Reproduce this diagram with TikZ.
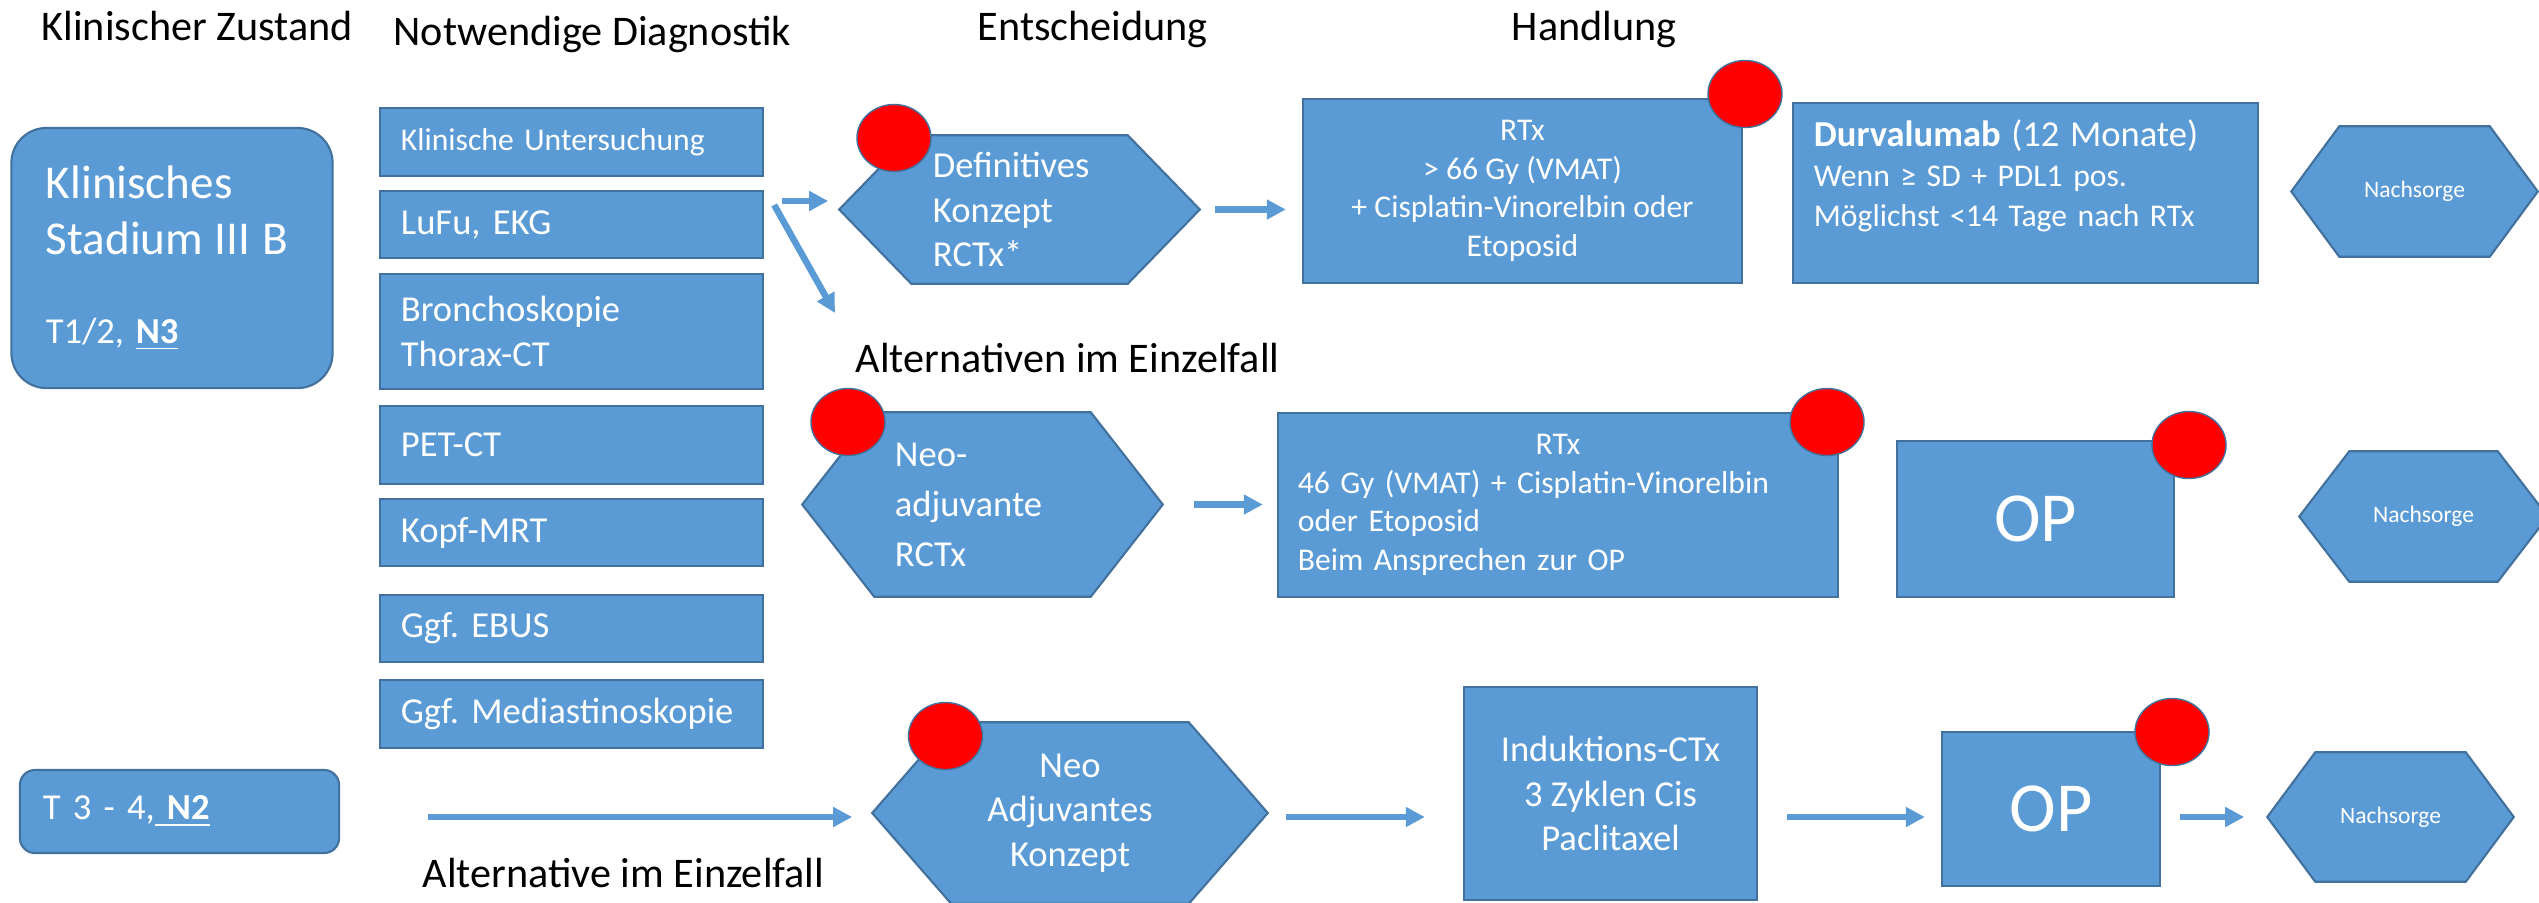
\documentclass[tikz,border=0pt]{standalone}
\usepackage{fontspec}
\setmainfont{Carlito}
\frenchspacing
\usetikzlibrary{arrows.meta, shapes.geometric, backgrounds}

\definecolor{boxblue}{HTML}{5B9BD5}
\definecolor{boxedge}{HTML}{41719C}

\newcommand{\fshead}{\fontsize{12}{14.4}\selectfont}
\newcommand{\fsmid}{\fontsize{10.4}{12.6}\selectfont}
\newcommand{\fssmall}{\fontsize{9}{10.95}\selectfont}
\newcommand{\fsnach}{\fontsize{6.7}{8}\selectfont}
\newcommand{\fsop}{\fontsize{20}{24}\selectfont}

\tikzset{
  box/.style={draw=boxedge, fill=boxblue, line width=0.6pt, text=white, inner sep=0pt},
  diag/.style={box, minimum width=3.83cm, text width=3.41cm, align=left, font=\fsmid},
  hexa/.style={text=white, inner sep=0pt},
  nach/.style={hexa, minimum width=2.45cm, minimum height=1.29cm, font=\fsnach},
  dot/.style={ellipse, draw=boxedge, fill=red, line width=0.4pt, inner sep=0pt, minimum width=0.74cm, minimum height=0.67cm},
  flow/.style={draw=boxblue, line width=0.065cm, -{Triangle[length=0.19cm, width=0.19cm]}},
  coltitle/.style={anchor=base west, inner sep=0pt, font=\fshead}
}

\begin{document}
\begin{tikzpicture}[x=0.01cm, y=-0.01cm]

\useasboundingbox (0,0) rectangle (2539,902);

% column titles
\node[coltitle] (hzust) at (41,40) {Klinischer Zustand};
\node[coltitle] (hdiag) at (393,45) {Notwendige Diagnostik};
\node[coltitle] (hents) at (977,40) {Entscheidung};
\node[coltitle] (hhand) at (1511,40) {Handlung};
\node[coltitle] (alt1) at (855,372) {Alternativen im Einzelfall};
\node[coltitle] (alt2) at (422,887) {Alternative im Einzelfall};

% clinical state
\node[box, rounded corners=0.35cm, minimum width=3.21cm, minimum height=2.6cm, text width=2.52cm, align=left] (kstad) at (172,258)
  {\fontsize{13.4}{16}\selectfont Klinisches\\Stadium III B\\[13.2pt]\fontsize{10.4}{16}\selectfont T1/2, \textbf{\underline{N3}}};
\node[box, rounded corners=0.15cm, minimum width=3.19cm, minimum height=0.83cm, text width=2.73cm, align=left, font=\fsmid] (t34) at (179.5,811.5)
  {T 3 - 4,\underline{\ \textbf{N2}}};

% diagnostics
\node[diag, minimum height=0.68cm, font=\fssmall] (dk1) at (571.5,142) {Klinische Untersuchung};
\node[diag, minimum height=0.67cm] (dk2) at (571.5,224.5) {LuFu, EKG};
\node[diag, minimum height=1.15cm] (dk3) at (571.5,331.5) {Bronchoskopie\\Thorax-CT};
\node[diag, minimum height=0.78cm] (dk4) at (571.5,445) {PET-CT};
\node[diag, minimum height=0.67cm] (dk5) at (571.5,532.5) {Kopf-MRT};
\node[diag, minimum height=0.67cm] (dk6) at (571.5,628.5) {Ggf. EBUS};
\node[diag, minimum height=0.68cm] (dk7) at (571.5,714) {Ggf. Mediastinoskopie};

% decisions
\node[hexa, minimum width=3.59cm, minimum height=1.47cm, text width=1.73cm, align=left, font=\fsmid] (defk) at (1019.5,209.5)
  {Definitives\\Konzept\\RCTx*};
\node[hexa, minimum width=3.59cm, minimum height=1.83cm, text width=1.75cm, align=left, font=\fontsize{10.4}{14.2}\selectfont] (neoadj) at (982.5,504.5)
  {Neo-\\adjuvante\\RCTx};
\node[hexa, minimum width=3.94cm, minimum height=1.8cm, align=center, font=\fsmid] (neokonz) at (1070,813)
  {Neo\\Adjuvantes\\Konzept};

% actions
\node[box, minimum width=4.39cm, minimum height=1.84cm, align=center, font=\fssmall] (rtx1) at (1522.5,191)
  {RTx\\> 66 Gy (VMAT)\\+ Cisplatin-Vinorelbin oder\\Etoposid};
\node[box, minimum width=4.65cm, minimum height=1.8cm, text width=4.23cm, align=left, font=\fontsize{9}{11.4}\selectfont] (dur) at (2025.5,193)
  {\fontsize{10.4}{11.4}\selectfont\textbf{Durvalumab} (12 Monate)\\\fontsize{9}{11.4}\selectfont Wenn ≥ SD + PDL1 pos.\\Möglichst <14 Tage nach RTx\\\mbox{}};
\node[box, minimum width=5.6cm, minimum height=1.84cm, text width=5.2cm, align=left, font=\fssmall] (rtx2) at (1558,505)
  {\makebox[\linewidth]{RTx}\\46 Gy (VMAT) + Cisplatin-Vinorelbin\\oder Etoposid\\Beim Ansprechen zur OP};
\node[box, minimum width=2.77cm, minimum height=1.56cm, font=\fsop] (op1) at (2035.5,519) {OP};
\node[box, minimum width=2.93cm, minimum height=2.13cm, align=center, font=\fsmid] (ind) at (1610.5,793.5)
  {Induktions-CTx\\3 Zyklen Cis\\Paclitaxel};
\node[box, minimum width=2.18cm, minimum height=1.54cm, font=\fsop] (op2) at (2051,809) {OP};

% aftercare
\node[nach] (nach1) at (2414.5,191.5) {Nachsorge};
\node[nach, minimum width=2.47cm] (nach2) at (2423.5,516.5) {Nachsorge};
\node[nach, minimum height=1.28cm] (nach3) at (2390.5,817) {Nachsorge};

% hexagon outlines behind the texts
\begin{scope}[on background layer]
\foreach \n/\c in {defk/0.72, neoadj/0.72, neokonz/0.79, nach1/0.48, nach2/0.5, nach3/0.48}
  \draw[box] (\n.west) -- ([xshift=\c cm]\n.north west) -- ([xshift=-\c cm]\n.north east) -- (\n.east)
    -- ([xshift=-\c cm]\n.south east) -- ([xshift=\c cm]\n.south west) -- cycle;
\end{scope}

% red markers
\node[dot] (d1) at (894,138) {};
\node[dot] (d2) at (1745,94) {};
\node[dot] (d3) at (848,422) {};
\node[dot] (d4) at (1827,422) {};
\node[dot] (d5) at (2189,445) {};
\node[dot] (d6) at (945.5,736) {};
\node[dot] (d7) at (2172,732) {};

% arrows
\draw[flow, shorten <=0.18cm, shorten >=0.11cm] ([yshift=0.085cm]dk2.east |- defk.west) -- ([yshift=0.085cm]defk.west);
\draw[flow] ([xshift=0.1cm, yshift=-0.15cm]dk2.north east) -- ([xshift=-0.2cm, yshift=0.59cm]alt1.base west);
\draw[flow, shorten <=0.15cm, shorten >=0.16cm] (defk.east) -- (defk.east -| rtx1.west);
\draw[flow, shorten <=0.31cm, shorten >=0.14cm] (neoadj.east) -- (neoadj.east -| rtx2.west);
\draw[flow, shorten <=0.88cm, shorten >=0.2cm] (t34.east |- nach3.west) -- (neokonz.west |- nach3.west);
\draw[flow, shorten <=0.18cm, shorten >=0.38cm] (neokonz.east |- nach3.west) -- (ind.west |- nach3.west);
\draw[flow, shorten <=0.29cm, shorten >=0.16cm] (ind.east |- nach3.west) -- (op2.west |- nach3.west);
\draw[flow, shorten <=0.19cm, shorten >=0.23cm] (op2.east |- nach3.west) -- (nach3.west);

\end{tikzpicture}
\end{document}
